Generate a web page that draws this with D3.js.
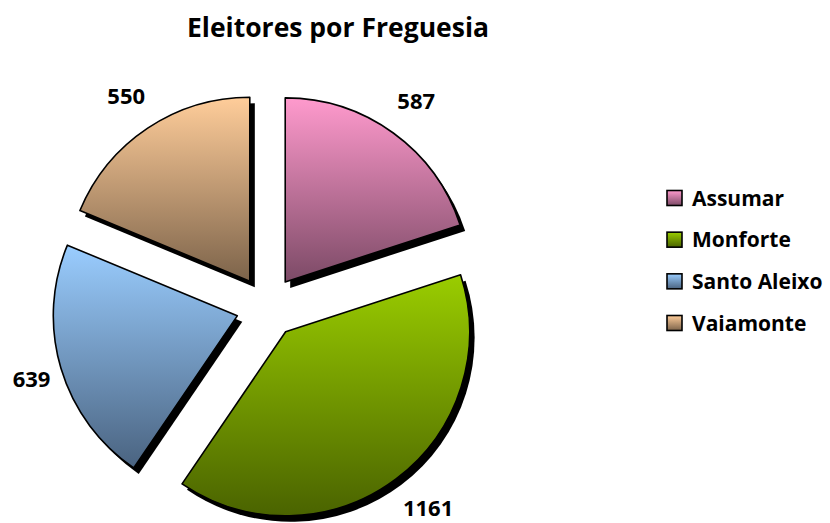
<!DOCTYPE html>
<html>
<head>
<meta charset="utf-8">
<script src="https://cdn.jsdelivr.net/npm/d3@7"></script>
<style>
  html, body { margin: 0; padding: 0; background: #fff; }
  svg { display: block; }
  text { font-family: "Open Sans", Lato, sans-serif; font-weight: bold; fill: #000; }
</style>
</head>
<body>
<svg id="chart" width="830" height="523"></svg>
<script>
const title = "Eleitores por Freguesia";
const categories = ["Assumar", "Monforte", "Santo Aleixo", "Vaiamonte"];
const values = [587, 1161, 639, 550];
const topColors = ["#FF9ACD", "#9ACD00", "#9ACDFF", "#FFCD9A"];
const bottomColors = ["#7C4A66", "#4A6300", "#4A6380", "#7C634A"];

const svg = d3.select("#chart");
const defs = svg.append("defs");

categories.forEach((c, i) => {
  const g = defs.append("linearGradient")
    .attr("id", "grad" + i)
    .attr("x1", 0).attr("y1", 0).attr("x2", 0).attr("y2", 1);
  g.append("stop").attr("offset", "0%").attr("stop-color", topColors[i]);
  g.append("stop").attr("offset", "100%").attr("stop-color", bottomColors[i]);
});

const cx = 267, cy = 307, radius = 184, explode = 31, labelGap = 201;
const labelBoxH = 27, minLabelX = 12.7, maxLabelBottom = 516.5;
const pie = d3.pie().sort(null).value(d => d)(values);
const arc = d3.arc().innerRadius(0).outerRadius(radius);

const pieG = svg.append("g").attr("transform", `translate(${cx},${cy})`);

function dir(d) {
  const a = (d.startAngle + d.endAngle) / 2;
  return [Math.sin(a), -Math.cos(a)];
}
function offset(d) {
  const u = dir(d);
  return [u[0] * explode, u[1] * explode];
}

// shadows
pieG.selectAll("path.shadow").data(pie).enter().append("path")
  .attr("class", "shadow")
  .attr("d", arc)
  .attr("fill", "#000")
  .attr("transform", d => { const o = offset(d); return `translate(${o[0] + 5},${o[1] + 6})`; });

// slices
const slices = pieG.selectAll("g.slice").data(pie).enter().append("g")
  .attr("class", "slice")
  .attr("transform", d => { const o = offset(d); return `translate(${o[0]},${o[1]})`; });

slices.append("path")
  .attr("d", arc)
  .attr("fill", (d, i) => `url(#grad${i})`)
  .attr("stroke", "#000")
  .attr("stroke-width", 1.6)
  .attr("stroke-linejoin", "round");

// data labels: placed outside the slice so the label box clears the ring at labelGap
const labelSize = 22;
slices.append("text")
  .attr("text-anchor", "middle")
  .attr("dy", "0.36em")
  .attr("font-size", labelSize)
  .text(d => d.data)
  .each(function(d) {
    const w = this.getComputedTextLength();
    const u = dir(d);
    const o = offset(d);
    const r = labelGap + Math.abs(u[0]) * w / 2 + Math.abs(u[1]) * labelBoxH / 2;
    let x = u[0] * r, y = u[1] * r;
    // keep inside the chart area (absolute coordinates)
    const absLeft = cx + o[0] + x - w / 2;
    if (absLeft < minLabelX) x += (minLabelX - absLeft);
    const half = 0.37 * labelSize;
    const absBottom = cy + o[1] + y + half;
    if (absBottom > maxLabelBottom) {
      y -= (absBottom - maxLabelBottom);
      // slide along the same radius
      x = Math.sign(x) * Math.sqrt(Math.max(0, r * r - y * y));
    }
    d3.select(this).attr("transform", `translate(${x},${y})`);
  });

// title
svg.append("text")
  .attr("x", 338).attr("y", 37)
  .attr("text-anchor", "middle")
  .attr("font-size", 26.5)
  .text(title);

// legend
const legendY = d3.scalePoint().domain(categories).range([198, 323]);
const leg = svg.append("g").selectAll("g").data(categories).enter().append("g")
  .attr("transform", d => `translate(667,${legendY(d)})`);
leg.append("rect")
  .attr("x", 0).attr("y", -7.5).attr("width", 15).attr("height", 15)
  .attr("fill", (d, i) => `url(#grad${i})`)
  .attr("stroke", "#000").attr("stroke-width", 1.6);
leg.append("text")
  .attr("x", 25).attr("y", 0).attr("dy", "0.36em")
  .attr("font-size", 21)
  .text(d => d);
</script>
</body>
</html>
